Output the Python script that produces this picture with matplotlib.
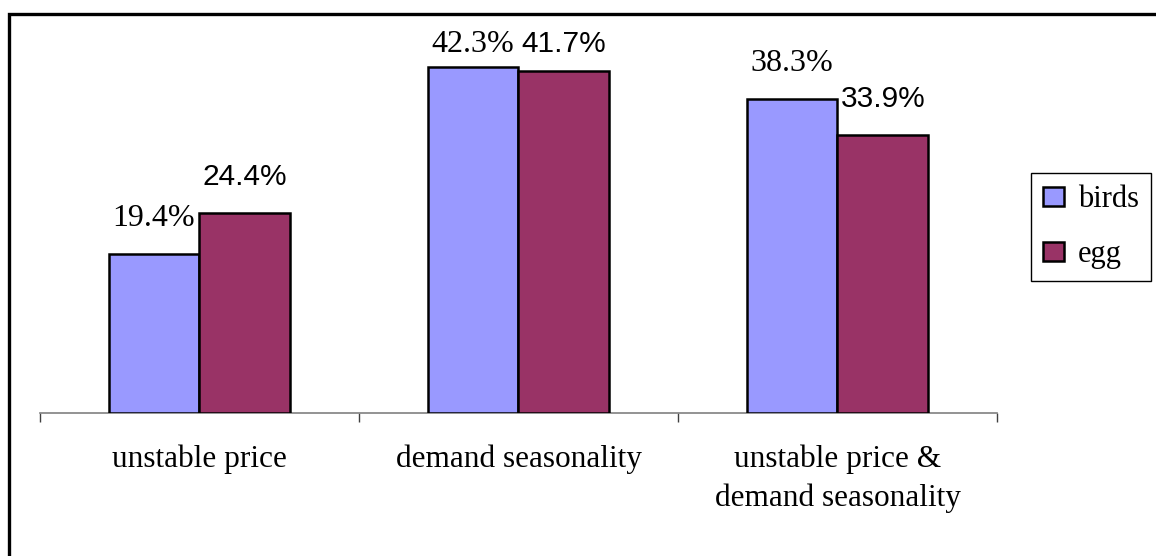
import numpy as np
import matplotlib
matplotlib.use("Agg")
import matplotlib.pyplot as plt
from matplotlib.patches import Rectangle

categories = ["unstable price", "demand seasonality", "unstable price &\ndemand seasonality"]
birds = [19.4, 42.3, 38.3]
egg = [24.4, 41.7, 33.9]

BIRDS_COLOR = "#9999FF"
EGG_COLOR = "#993366"
SERIF = "Liberation Serif"
SANS = "Liberation Sans"

fig = plt.figure(figsize=(11.56, 5.56), dpi=100)
fig.patch.set_facecolor("white")

# plot area placed in pixels of the 1156x556 canvas
W, H = 1156.0, 556.0
ax = fig.add_axes([40 / W, (H - 413) / H, 957 / W, 385 / H])

x = np.arange(len(categories))
width = 0.285

ax.bar(x - width / 2, birds, width, color=BIRDS_COLOR, edgecolor="black",
       linewidth=1.8, label="birds", zorder=3)
ax.bar(x + width / 2, egg, width, color=EGG_COLOR, edgecolor="black",
       linewidth=1.8, label="egg", zorder=3)

ax.set_xlim(-0.5, len(categories) - 0.5)
ax.set_ylim(0, 47)

# value labels sit above each bar, but never above the top of the plot area
label_gap = 3.4
label_ceiling = 44.1
for xi, v in zip(x, birds):
    ax.text(xi - width / 2, min(v + label_gap, label_ceiling), f"{v:.1f}%",
            ha="center", va="baseline", fontsize=23, family=SERIF, color="black")
for xi, v in zip(x, egg):
    ax.text(xi + width / 2, min(v + label_gap, label_ceiling), f"{v:.1f}%",
            ha="center", va="baseline", fontsize=21.5, family=SANS, color="black")

for side in ["top", "right", "left"]:
    ax.spines[side].set_visible(False)
ax.spines["bottom"].set_color("#808080")
ax.spines["bottom"].set_linewidth(1.2)
ax.set_yticks([])

# tick marks between categories, labels centred under each group
ax.set_xticks(np.arange(-0.5, len(categories), 1.0))
ax.set_xticklabels([])
ax.tick_params(axis="x", which="major", length=6.5, width=1.0,
               color="#404040", direction="out")
ax.set_xticks(x, minor=True)
ax.set_xticklabels(categories, minor=True, fontsize=22.5, family=SERIF,
                   linespacing=1.4)
ax.tick_params(axis="x", which="minor", length=0, pad=23)

fig.legend(loc="upper left", bbox_to_anchor=(1031 / W, 1 - 173 / H),
           bbox_transform=fig.transFigure, prop={"family": SERIF, "size": 22},
           frameon=True, fancybox=False, edgecolor="black", framealpha=1,
           borderaxespad=0, borderpad=0.4, handlelength=0.68, handleheight=0.62,
           handletextpad=0.45, labelspacing=0.85)
leg = fig.legends[0]
leg.get_frame().set_linewidth(1.0)

# outer chart border
fig.patches.append(Rectangle((9 / W, -0.1), 1.2, 1 - 14 / H + 0.1,
                             transform=fig.transFigure, fill=False,
                             edgecolor="black", linewidth=2.4, zorder=0))

fig.savefig("out.png", dpi=100, facecolor="white")
